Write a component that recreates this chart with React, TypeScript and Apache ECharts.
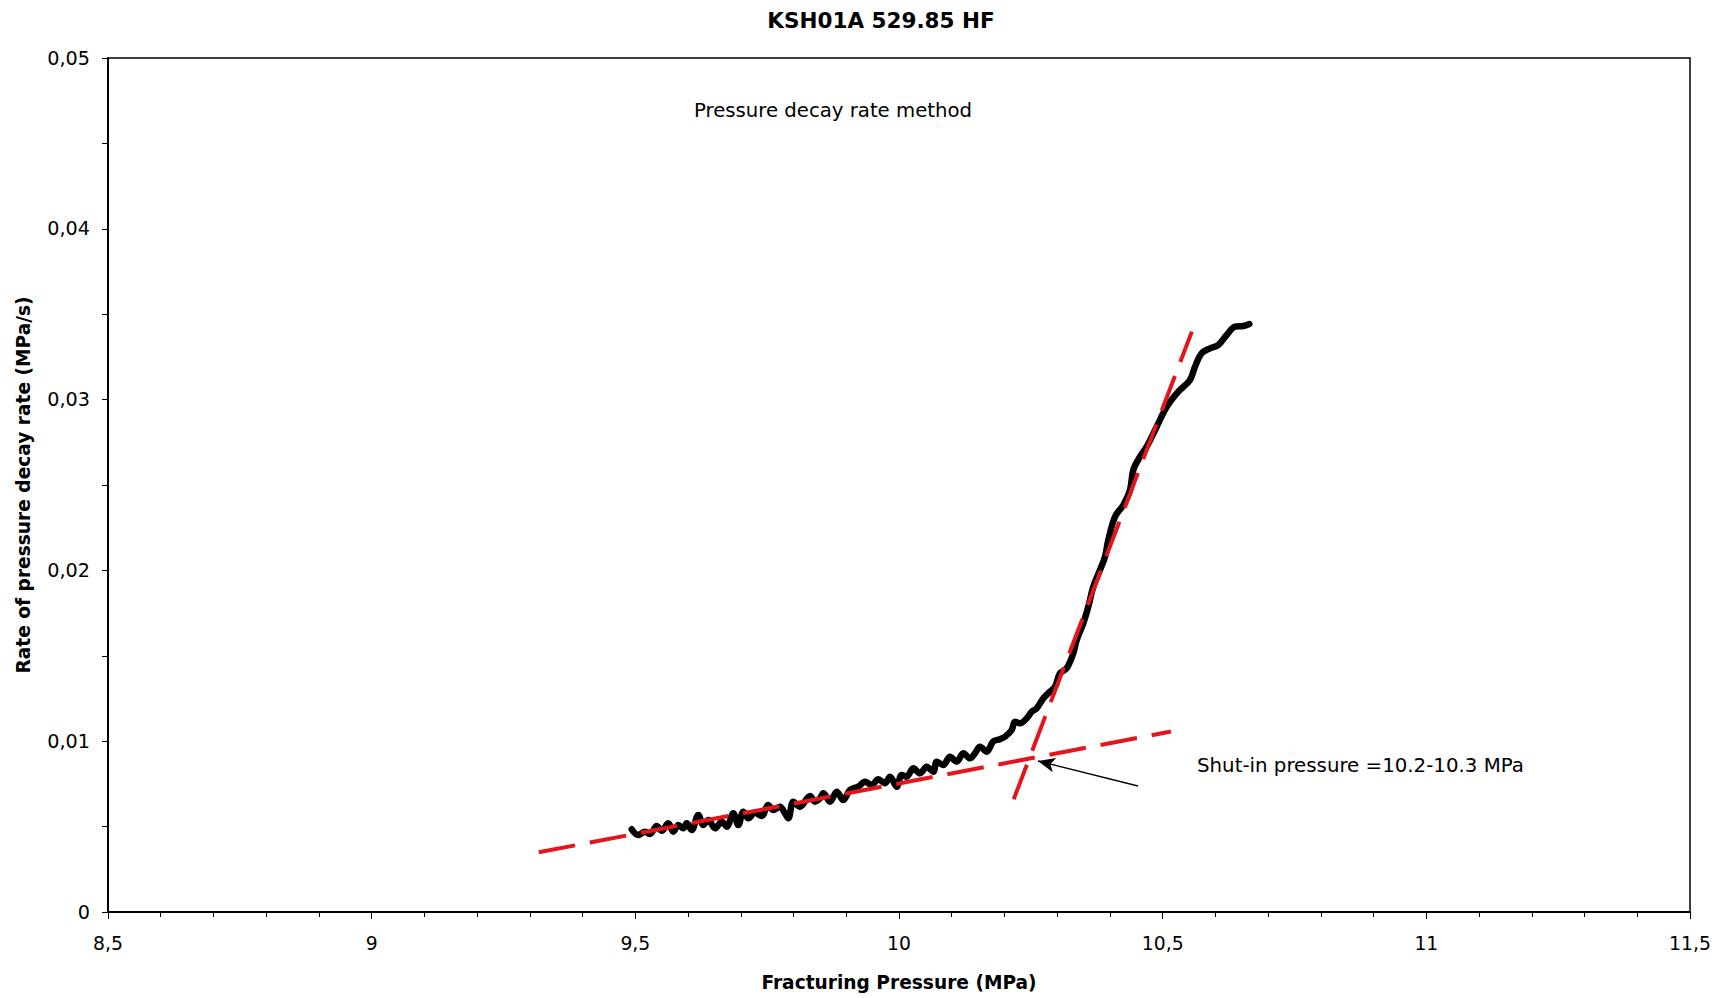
import React, { useEffect, useRef } from "react";
import * as echarts from "echarts";

// Measured curve: fracturing pressure (MPa) vs rate of pressure decay (MPa/s)
const pressure = [
  9.4931, 9.5056, 9.5183, 9.5278, 9.5405, 9.55, 9.5625, 9.572, 9.5815, 9.591,
  9.5974, 9.6069, 9.6194, 9.6289, 9.6384, 9.6511, 9.6638, 9.6733, 9.6858, 9.6953,
  9.7048, 9.7142, 9.7269, 9.7396, 9.7522, 9.7616, 9.7743, 9.7838, 9.7901, 9.7996,
  9.8123, 9.8312, 9.8407, 9.8502, 9.8565, 9.8692, 9.8819, 9.8944, 9.9071, 9.9228,
  9.9355, 9.9482, 9.9608, 9.9735, 9.9829, 9.9957, 10.0051, 10.0146, 10.0271, 10.0398,
  10.0525, 10.0651, 10.0715, 10.084, 10.0967, 10.1094, 10.122, 10.1347, 10.1441, 10.1536,
  10.1663, 10.1788, 10.1915, 10.201, 10.2137, 10.22, 10.2295, 10.2422, 10.2517, 10.2611,
  10.2737, 10.2831, 10.2958, 10.3053, 10.318, 10.3305, 10.337, 10.3495, 10.359, 10.3685,
  10.3812, 10.3907, 10.3969, 10.4096, 10.4254, 10.4381, 10.4443, 10.457, 10.4697, 10.4887,
  10.5077, 10.5297, 10.5519, 10.5613, 10.574, 10.5898, 10.6055, 10.6214, 10.6372, 10.6529,
  10.6643,
];
const decayRate = [
  0.004842, 0.004508, 0.004701, 0.004567, 0.005035, 0.00476, 0.005193, 0.004701, 0.005094, 0.0049,
  0.005193, 0.004801, 0.005679, 0.005094, 0.005386, 0.0049, 0.005287, 0.004994, 0.005779, 0.005094,
  0.005872, 0.005486, 0.005814, 0.005621, 0.006265, 0.005972, 0.006165, 0.005779, 0.005486, 0.006458,
  0.006165, 0.006792, 0.006458, 0.006657, 0.00695, 0.006458, 0.007043, 0.006557, 0.007143, 0.007336,
  0.007629, 0.007436, 0.007769, 0.007535, 0.007922, 0.007336, 0.008021, 0.007922, 0.008413, 0.008121,
  0.008507, 0.008214, 0.0088, 0.008607, 0.009092, 0.0088, 0.009292, 0.008999, 0.009292, 0.009678,
  0.009385, 0.00999, 0.01012, 0.010264, 0.010656, 0.011142, 0.011048, 0.011341, 0.011727, 0.011926,
  0.012512, 0.012804, 0.013191, 0.013975, 0.014268, 0.015146, 0.015925, 0.016903, 0.017875, 0.019046,
  0.020023, 0.020802, 0.02178, 0.023144, 0.023829, 0.024707, 0.025878, 0.026657, 0.027243, 0.028414,
  0.029585, 0.030463, 0.031148, 0.031926, 0.032711, 0.033003, 0.033197, 0.033782, 0.034268, 0.034309,
  0.034426,
];

// Fitted straight lines (red dashed)
const lowFitX = [9.3168, 10.5158];
const lowFitY = [0.003495, 0.010568];
const highFitX = [10.2175, 10.5553];
const highFitY = [0.006598, 0.033981];

// Annotation arrow (from text towards intersection)
const arrowFrom = [10.4532, 0.007377];
const arrowTo = [10.2636, 0.008841];

const titleText = "KSH01A 529.85 HF";
const methodText = "Pressure decay rate method";
const shutInText = "Shut-in pressure =10.2-10.3 MPa";
const xName = "Fracturing Pressure (MPa)";
const yName = "Rate of pressure decay rate (MPa/s)";

const FONT = "DejaVu Sans";

export default function App() {
  const ref = useRef<HTMLDivElement>(null);

  useEffect(() => {
    if (!ref.current) return;
    const chart = echarts.init(ref.current, null, { renderer: "svg" });

    const curve = pressure.map((p, i) => [p, decayRate[i]]);
    const low = lowFitX.map((p, i) => [p, lowFitY[i]]);
    const high = highFitX.map((p, i) => [p, highFitY[i]]);

    const option: any = {
      animation: false,
      backgroundColor: "#ffffff",
      grid: {
        left: 108,
        top: 58,
        width: 1582,
        height: 854,
        show: true,
        borderColor: "#000",
        borderWidth: 1.5,
        backgroundColor: "transparent",
      },
      xAxis: {
        type: "value",
        min: 8.5,
        max: 11.5,
        interval: 0.5,
        name: xName,
        nameLocation: "middle",
        nameGap: 61,
        nameTextStyle: { fontFamily: FONT, fontSize: 18.6, fontWeight: "bold", color: "#000" },
        axisLine: { show: true, onZero: false, lineStyle: { color: "#000", width: 2 } },
        axisTick: { show: true, length: 7, lineStyle: { color: "#000", width: 1 } },
        minorTick: { show: true, splitNumber: 5, length: 5, lineStyle: { color: "#000", width: 1 } },
        splitLine: { show: false },
        axisLabel: {
          margin: 22,
          fontFamily: FONT,
          fontSize: 18.8,
          color: "#000",
          formatter: (v: number) => Number(v.toFixed(1)).toString().replace(".", ","),
        },
      },
      yAxis: {
        type: "value",
        min: 0,
        max: 0.05,
        interval: 0.01,
        name: yName,
        nameLocation: "middle",
        nameGap: 75,
        nameTextStyle: { fontFamily: FONT, fontSize: 18.6, fontWeight: "bold", color: "#000" },
        axisLine: { show: true, onZero: false, lineStyle: { color: "#000", width: 2 } },
        axisTick: { show: true, length: 6, lineStyle: { color: "#000", width: 1 } },
        minorTick: { show: true, splitNumber: 2, length: 6, lineStyle: { color: "#000", width: 1 } },
        splitLine: { show: false },
        axisLabel: {
          margin: 18,
          fontFamily: FONT,
          fontSize: 19.2,
          color: "#000",
          formatter: (v: number) => (v === 0 ? "0" : v.toFixed(2).replace(".", ",")),
        },
      },
      series: [
        {
          type: "line",
          data: curve,
          smooth: 0.35,
          showSymbol: false,
          symbol: "none",
          lineStyle: { color: "#000", width: 6.5, join: "round", cap: "round" },
          z: 2,
        },
        {
          type: "line",
          data: low,
          showSymbol: false,
          symbol: "none",
          lineStyle: { color: "#e4161b", width: 4, type: [37, 15] },
          z: 3,
          markLine: {
            silent: true,
            symbol: ["none", "arrow"],
            symbolSize: [11, 17],
            label: { show: false },
            lineStyle: { color: "#000", width: 1.3, type: "solid" },
            data: [[{ coord: arrowFrom }, { coord: arrowTo }]],
          },
        },
        {
          type: "line",
          data: high,
          showSymbol: false,
          symbol: "none",
          lineStyle: { color: "#e4161b", width: 4, type: [37, 15] },
          z: 3,
        },
      ],
      graphic: [
        {
          type: "text",
          x: 881,
          y: 20,
          style: {
            text: titleText,
            fontFamily: FONT,
            fontSize: 21.5,
            fontWeight: "bold",
            fill: "#000",
            align: "center",
            verticalAlign: "middle",
          },
        },
        {
          type: "text",
          x: 694,
          y: 110,
          style: {
            text: methodText,
            fontFamily: FONT,
            fontSize: 19.7,
            fill: "#000",
            align: "left",
            verticalAlign: "middle",
          },
        },
        {
          type: "text",
          x: 1197,
          y: 765,
          style: {
            text: shutInText,
            fontFamily: FONT,
            fontSize: 19.8,
            fill: "#000",
            align: "left",
            verticalAlign: "middle",
          },
        },
      ],
    };

    chart.setOption(option);
    return () => chart.dispose();
  }, []);

  return (
    <div
      ref={ref}
      style={{ position: "absolute", left: 0, top: 0, width: 1724, height: 998, background: "#fff" }}
    />
  );
}
